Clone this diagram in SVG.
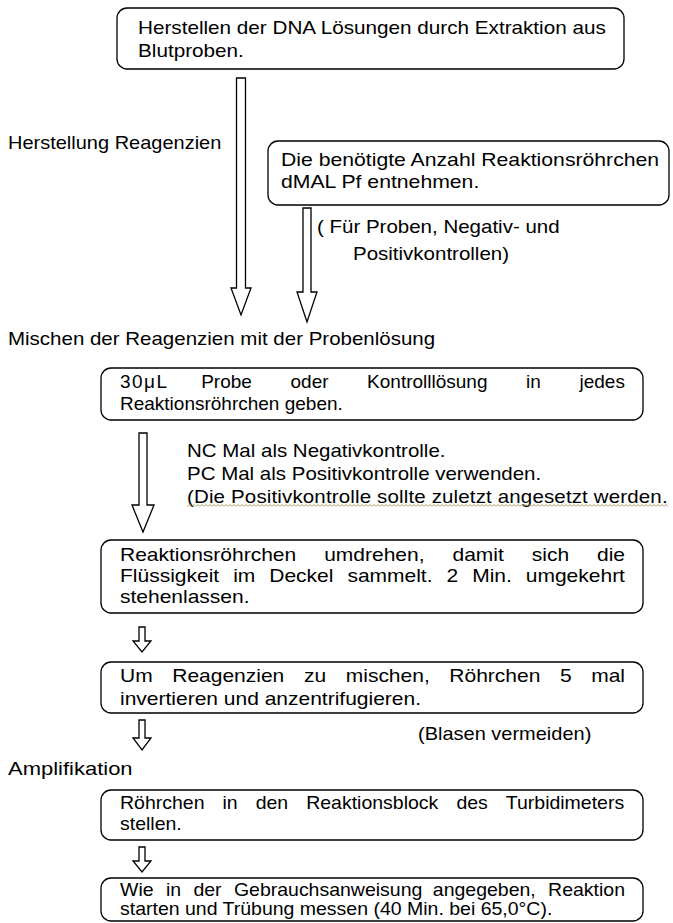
<svg xmlns="http://www.w3.org/2000/svg" width="673" height="923" viewBox="0 0 673 923">
<defs>
<style>
text{font-family:"Liberation Sans",Arial,sans-serif;font-size:18px;fill:#000}
.box{fill:#fff;stroke:#000;stroke-width:1.3}
.arr{fill:#fff;stroke:#000;stroke-width:1.3;stroke-linejoin:miter}
</style>
<pattern id="wave" x="0" y="0" width="4" height="3" patternUnits="userSpaceOnUse"><path d="M0,2.5 L2,0.5 L4,2.5" fill="none" stroke="#a08a50" stroke-width="0.9"/></pattern>
</defs>
<rect width="673" height="923" fill="#fff"/>

<g id="connectors">
<path class="arr" d="M236.5,78 H245.5 V288 H251 L241,315 L231,288 H236.5 Z"/>
<path class="arr" d="M303,208 H311 V292 H317 L307,322 L297,292 H303 Z"/>
<path class="arr" d="M139,433 H147 V505 H154 L143,532 L132,505 H139 Z"/>
<path class="arr" d="M139,627 H145 V641 H151 L142,652 L133,641 H139 Z"/>
<path class="arr" d="M139,720 H145 V738 H151 L142,750 L133,738 H139 Z"/>
<path class="arr" d="M139,847 H145 V861 H151 L142,872 L133,861 H139 Z"/>
</g>

<g id="n1">
<rect class="box" x="117" y="8" width="507" height="61" rx="10"/>
<g transform="scale(1.15 1)">
<text x="120" y="34">Herstellen der DNA Lösungen durch Extraktion aus</text>
<text x="120" y="57">Blutproben.</text>
</g>
</g>

<g id="label-reagenzien" transform="scale(1.1111 1)">
<text x="7.2" y="149">Herstellung Reagenzien</text>
</g>

<g id="n2">
<rect class="box" x="268" y="141" width="401" height="64" rx="10"/>
<g transform="scale(1.1778 1)">
<text x="238.58" y="166">Die benötigte Anzahl Reaktionsröhrchen</text>
<text x="238.58" y="188">dMAL Pf entnehmen.</text>
</g>
</g>

<g id="note-proben" transform="scale(1.1389 1)">
<text x="278.34" y="233">( Für Proben, Negativ- und</text>
<text x="309.95" y="260">Positivkontrollen)</text>
</g>

<g id="label-mischen" transform="scale(1.1389 1)">
<text x="7.02" y="345">Mischen der Reagenzien mit der Probenlösung</text>
</g>

<g id="n3">
<rect class="box" x="101" y="368" width="542" height="52" rx="10"/>
<g transform="scale(1.0556 1)">
<text y="388"><tspan x="113.68" letter-spacing="1.4">30μL</tspan><tspan x="190.6">Probe</tspan><tspan x="275.2">oder</tspan><tspan x="347.77">Kontrolllösung</tspan><tspan x="498.4">in</tspan><tspan x="548.98">jedes</tspan></text>
<text x="113.68" y="410">Reaktionsröhrchen geben.</text>
</g>
</g>

<g id="note-kontrollen">
<g transform="scale(1.1389 1)">
<text x="164.19" y="457">NC Mal als Negativkontrolle.</text>
<text x="164.19" y="480">PC Mal als Positivkontrolle verwenden.</text>
<text x="164.19" y="503" textLength="422" lengthAdjust="spacing">(Die Positivkontrolle sollte zuletzt angesetzt werden.</text>
</g>
<rect x="187" y="504" width="481" height="3" fill="url(#wave)"/>
</g>

<g id="n4">
<rect class="box" x="101" y="540" width="542" height="73" rx="10"/>
<g transform="scale(1.1667 1)">
<text y="561"><tspan x="102.86">Reaktionsröhrchen</tspan><tspan x="277.84">umdrehen,</tspan><tspan x="387.86">damit</tspan><tspan x="455.79">sich</tspan><tspan x="511.71">die</tspan></text>
<text y="582"><tspan x="102.86">Flüssigkeit</tspan><tspan x="199.83">im</tspan><tspan x="230.79">Deckel</tspan><tspan x="297.76">sammelt.</tspan><tspan x="382.73">2</tspan><tspan x="404.7">Min.</tspan><tspan x="450.67">umgekehrt</tspan></text>
<text x="102.86" y="603">stehenlassen.</text>
</g>
</g>

<g id="n5">
<rect class="box" x="101" y="662" width="542" height="51" rx="10"/>
<g transform="scale(1.1667 1)">
<text y="682"><tspan x="102.86">Um</tspan><tspan x="147.67">Reagenzien</tspan><tspan x="260.54">zu</tspan><tspan x="296.35">mischen,</tspan><tspan x="385.13">Röhrchen</tspan><tspan x="479.92">5</tspan><tspan x="506.72">mal</tspan></text>
<text x="102.86" y="705">invertieren und anzentrifugieren.</text>
</g>
</g>

<g id="note-blasen" transform="scale(1.1111 1)">
<text x="376.2" y="740">(Blasen vermeiden)</text>
</g>

<g id="label-amplifikation" transform="scale(1.2222 1)">
<text x="6.55" y="775">Amplifikation</text>
</g>

<g id="n6">
<rect class="box" x="101" y="790" width="542" height="50" rx="10"/>
<g transform="scale(1.0833 1)">
<text y="809"><tspan x="110.77">Röhrchen</tspan><tspan x="205.39">in</tspan><tspan x="236.03">den</tspan><tspan x="282.65">Reaktionsblock</tspan><tspan x="421.3">des</tspan><tspan x="466.9">Turbidimeters</tspan></text>
<text x="110.77" y="830">stellen.</text>
</g>
</g>

<g id="n7">
<rect class="box" x="101" y="878" width="542" height="43" rx="10"/>
<g transform="scale(1.0833 1)">
<text y="896"><tspan x="110.77">Wie</tspan><tspan x="153.14">in</tspan><tspan x="178.52">der</tspan><tspan x="215.91">Gebrauchsanweisung</tspan><tspan x="399.52">angegeben,</tspan><tspan x="505.94">Reaktion</tspan></text>
<text x="110.77" y="915">starten und Trübung messen (40 Min. bei 65,0°C).</text>
</g>
</g>
</svg>
